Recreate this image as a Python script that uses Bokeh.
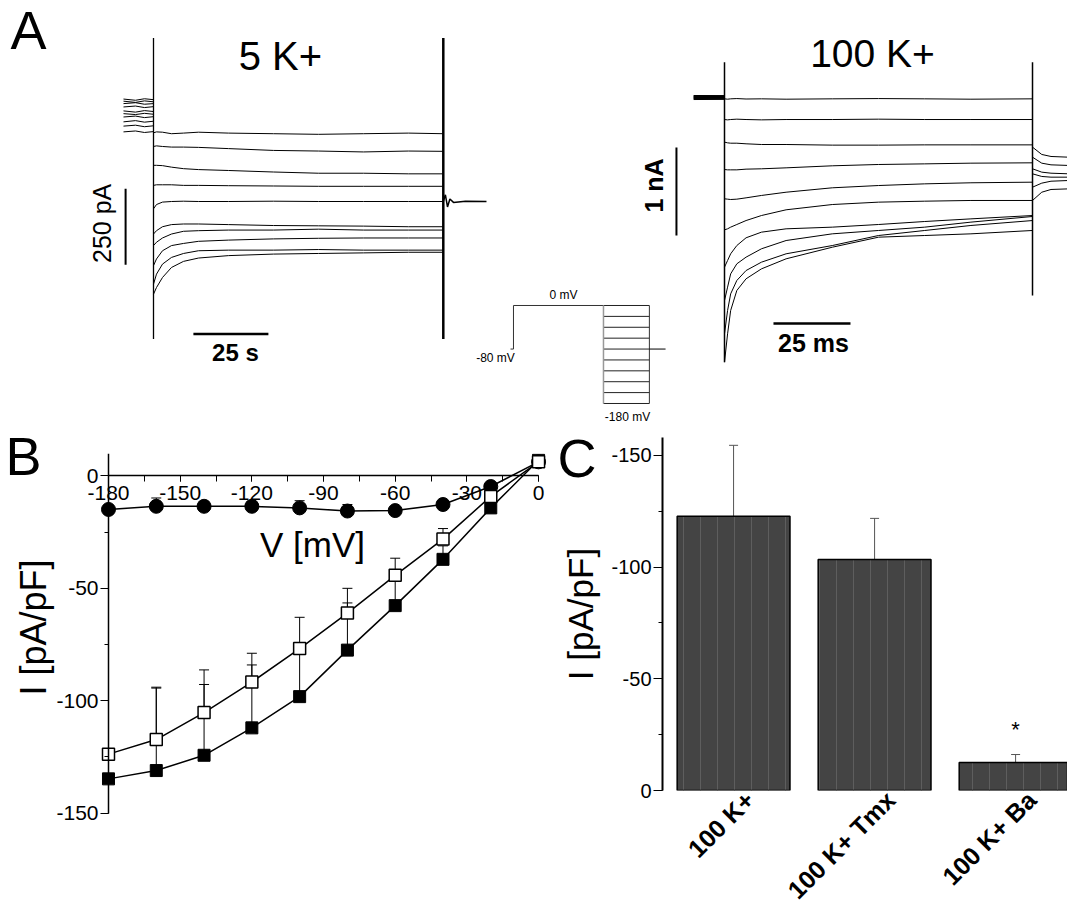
import math
from bokeh.plotting import figure
from bokeh.models import (Range1d, Label, Whisker, TeeHead, SingleIntervalTicker,
                          ColumnDataSource, GridBox, PrintfTickFormatter)
from bokeh.embed import file_html
from bokeh.resources import INLINE
from bokeh.core.properties import value

FONT = "Liberation Sans"

# ---------------- data: panel A, 5 K+ (time in s as on scale bar, current in pA) ----------------
t5 = [0, 1, 3, 6, 10, 15, 25, 40, 55, 70, 85, 96.6]
i5 = [
    [226, 229, 228, 223, 225, 228, 225, 223, 221, 223, 225, 223],
    [181, 183, 181, 179, 179, 178, 174, 168, 166, 163, 166, 165],
    [119, 119, 118, 113, 108, 105, 102, 97, 93, 93, 91, 91],
    [53, 55, 55, 55, 53, 53, 52, 51, 50, 50, 50, 50],
    [-24, -10, -2, 0, 1, 0, 0, 1, 0, 0, 0, 0],
    [-107, -96, -83, -76, -74, -74, -76, -79, -80, -81, -83, -83],
    [-145, -134, -120, -107, -98, -96, -94, -94, -91, -94, -94, -94],
    [-211, -189, -162, -145, -138, -131, -127, -123, -121, -120, -120, -120],
    [-272, -239, -206, -184, -171, -162, -160, -160, -158, -160, -160, -160],
    [-305, -283, -250, -217, -197, -186, -178, -173, -171, -169, -167, -167],
]
t5_pre = [-10, -6, -3, 0]
pre5 = [
    [337, 333, 338, 335], [330, 326, 331, 328], [322, 325, 320, 322], [311, 314, 309, 312],
    [298, 294, 299, 296], [289, 286, 290, 287], [278, 281, 276, 279], [262, 266, 261, 264],
    [248, 251, 246, 249], [229, 232, 227, 230],
]
trans5 = [-452, 538]
tail5_t = [96.6, 97.3, 98.0, 98.8, 100, 104, 111]
tail5_i = [0, 22, -18, 8, -3, 1, 0]
scale5_i = 250   # pA
scale5_t = 25    # s

# ---------------- data: panel A, 100 K+ (time in ms, current in pA) ----------------
t100 = [0, 1, 2, 4, 7, 12, 20, 35, 50, 65, 80, 100]
i100 = [
    [909, 905, 909, 912, 907, 909, 905, 909, 912, 909, 905, 909],
    [674, 670, 674, 678, 674, 670, 674, 674, 678, 674, 674, 674],
    [417, 409, 405, 405, 398, 390, 390, 383, 383, 386, 386, 386],
    [106, 102, 102, 102, 110, 114, 125, 148, 163, 170, 178, 182],
    [-227, -231, -235, -231, -216, -189, -152, -102, -76, -57, -45, -38],
    [-580, -568, -549, -519, -474, -417, -352, -292, -265, -254, -246, -246],
    [-1004, -928, -852, -758, -670, -606, -568, -549, -519, -485, -455, -417],
    [-1383, -1231, -1080, -966, -890, -795, -701, -625, -587, -549, -492, -428],
    [-1761, -1496, -1307, -1155, -1042, -947, -852, -758, -644, -587, -530, -474],
    [-2083, -1761, -1496, -1269, -1136, -1023, -909, -777, -663, -644, -625, -587],
]
t100_pre = [-10, 0]
pre100 = [[947, 945], [942, 944], [937, 935], [932, 934], [928, 926],
          [923, 925], [918, 916], [913, 915], [907, 909], [901, 903]]
trans100_on = [-2083, 1326]
trans100_off = [-1326, 1326]
tail100_t = [100, 103, 106, 111.7]
tail100 = [[360, 277, 254, 246], [246, 178, 159, 152], [114, 76, 64, 57],
           [57, 27, 19, 19], [-95, -49, -27, -19], [-246, -152, -121, -114]]
scale100_i = 1000  # pA (1 nA)
scale100_t = 25    # ms

# ---------------- data: voltage protocol ----------------
hold_v = -80
pre_v = 0
test_v = [0, -20, -40, -60, -80, -100, -120, -140, -160, -180]
prot_t = [-3.3, 0, 100, 151, 169]

# ---------------- data: panel B (I-V) ----------------
V = [-180, -160, -140, -120, -100, -80, -60, -40, -20, 0]
i_5k = [-14.9, -13.5, -13.5, -13.5, -14.2, -15.6, -15.4, -12.7, -4.7, 6.3]
e_5k = [1.0, 3.7, 1.0, 1.0, 3.2, 2.9, 1.0, 1.0, 1.0, 1.0]
i_tmx = [-123.8, -117.3, -105.3, -91.7, -76.8, -61.0, -44.2, -28.1, -9.1, 6.3]
e_tmx = [2.0, 23.3, 19.0, 12.8, 13.9, 11.0, 7.6, 4.7, 2.0, 1.0]
i_100k = [-134.8, -131.1, -124.3, -112.1, -98.2, -77.5, -57.7, -37.1, -14.2, 7.0]
e_100k = [2.0, 36.7, 31.5, 28.0, 22.0, 21.0, 13.0, 6.0, 2.0, 1.0]

# ---------------- data: panel C (bars) ----------------
cats = ["100 K+", "100 K+ Tmx", "100 K+ Ba"]
c_mean = [-122.8, -103.4, -12.5]
c_sem = [31.7, 18.4, 3.6]
c_sig = ["", "", "*"]

COMMON = dict(output_backend="svg", toolbar_location=None, frame_align=False)

# =====================================================================
# Panel A
pa = figure(width=1067, height=430, x_range=Range1d(0, 1), y_range=Range1d(0, 1),
            x_axis_location=None, y_axis_location=None, min_border=0, **COMMON)
pa.grid.visible = False
pa.outline_line_color = None
pa.extra_x_ranges = {"t5": Range1d(-51, 304.667), "t100": Range1d(-235.06, 111.36),
                     "tp": Range1d(-570, 615.6)}
pa.extra_y_ranges = {"i5": Range1d(-753.3, 661.2), "i100": Range1d(-2859.9, 2026.5),
                     "vp": Range1d(-229.6, 560.2)}
k5 = dict(x_range_name="t5", y_range_name="i5")
k100 = dict(x_range_name="t100", y_range_name="i100")
kp = dict(x_range_name="tp", y_range_name="vp")

# 5 K+ traces
pa.multi_line(xs=[t5_pre] * len(pre5), ys=pre5, line_color="black", line_width=1, **k5)
pa.multi_line(xs=[t5] * len(i5), ys=i5, line_color="black", line_width=1, **k5)
pa.line(x=[t5[0], t5[0]], y=trans5, line_color="black", line_width=1.3, **k5)
pa.line(x=[t5[-1], t5[-1]], y=trans5, line_color="black", line_width=2.5, **k5)
pa.line(x=tail5_t, y=tail5_i, line_color="black", line_width=1.5, **k5)
sb5_x, sb5_y0 = -9.3, -208
pa.line(x=[sb5_x, sb5_x], y=[sb5_y0, sb5_y0 + scale5_i], line_color="black", line_width=2, **k5)
sb5_t0, sb5_yh = 13.3, -436
pa.line(x=[sb5_t0, sb5_t0 + scale5_t], y=[sb5_yh, sb5_yh], line_color="black", line_width=2.5, **k5)

# 100 K+ traces
pa.multi_line(xs=[t100_pre] * len(pre100), ys=pre100, line_color="black", line_width=1, **k100)
pa.multi_line(xs=[t100] * len(i100), ys=i100, line_color="black", line_width=1, **k100)
pa.line(x=[t100[0], t100[0]], y=trans100_on, line_color="black", line_width=1.5, **k100)
pa.line(x=[t100[-1], t100[-1]], y=trans100_off, line_color="black", line_width=1.5, **k100)
pa.multi_line(xs=[tail100_t] * len(tail100), ys=tail100, line_color="black", line_width=1, **k100)
sb100_x, sb100_y0 = -15.6, -644
pa.line(x=[sb100_x, sb100_x], y=[sb100_y0, sb100_y0 + scale100_i], line_color="black", line_width=2, **k100)
sb100_t0, sb100_yh = 15.9, -1644
pa.line(x=[sb100_t0, sb100_t0 + scale100_t], y=[sb100_yh, sb100_yh], line_color="black", line_width=2.5, **k100)

# voltage protocol
pa.line(x=[prot_t[0], prot_t[1], prot_t[1], prot_t[2]], y=[hold_v, hold_v, pre_v, pre_v],
        line_color="#333333", line_width=1, **kp)
pa.multi_line(xs=[[prot_t[2], prot_t[3]]] * len(test_v), ys=[[v, v] for v in test_v],
              line_color="#222222", line_width=1, **kp)
pa.line(x=[prot_t[2], prot_t[2]], y=[max(test_v), min(test_v)], line_color="#999999", line_width=1.5, **kp)
pa.line(x=[prot_t[3], prot_t[3]], y=[max(test_v), min(test_v)], line_color="#333333", line_width=1, **kp)
pa.line(x=[prot_t[3], prot_t[4]], y=[hold_v, hold_v], line_color="black", line_width=1, **kp)


def lab(fig, text, x, y, size, rng=(None, None), style="normal", angle=0.0, align="center",
        baseline="middle"):
    kw = {}
    if rng[0]:
        kw["x_range_name"] = rng[0]
    if rng[1]:
        kw["y_range_name"] = rng[1]
    fig.add_layout(Label(x=x, y=y, text=text, text_font=FONT, text_font_size=f"{size}px",
                         text_font_style=style, text_align=align, text_baseline=baseline,
                         angle=angle, text_color="black", **kw))


lab(pa, "A", -47.7, 565.8, 54, ("t5", "i5"), align="left")
lab(pa, "5 K+", 42.3, 480, 40, ("t5", "i5"))
lab(pa, "250 pA", -17, -72, 25, ("t5", "i5"), angle=math.pi / 2)
lab(pa, "25 s", 27.3, -497, 24, ("t5", "i5"), style="bold")
lab(pa, "100 K+", 48.05, 1424, 39, ("t100", "i100"))
lab(pa, "1 nA", -23, -76, 25, ("t100", "i100"), style="bold", angle=math.pi / 2)
lab(pa, "25 ms", 28.9, -1871, 25, ("t100", "i100"), style="bold")
lab(pa, "0 mV", 55.6, 18.4, 12, ("tp", "vp"))
lab(pa, f"{hold_v} mV", -20, -97.3, 12, ("tp", "vp"))
lab(pa, f"{min(test_v)} mV", 126.7, -205.7, 12, ("tp", "vp"))

# =====================================================================
# Panel B
pb = figure(width=555, height=475, x_range=Range1d(-202.6, 5), y_range=Range1d(-160, 10),
            min_border_left=54, min_border_right=5, min_border_top=23, min_border_bottom=70, **COMMON)
pb.grid.visible = False
pb.outline_line_color = None
xa = pb.xaxis[0]
xa.fixed_location = 0
xa.bounds = (min(V), max(V))
xa.ticker = SingleIntervalTicker(interval=30, num_minor_ticks=2)
ya = pb.yaxis[0]
ya.fixed_location = min(V)
ya.bounds = (-150, 10)
ya.ticker = SingleIntervalTicker(interval=50, num_minor_ticks=2)
for ax in (xa, ya):
    ax.formatter = PrintfTickFormatter(format="%d")
    ax.axis_line_color = "black"
    ax.axis_line_width = 1.5
    ax.major_tick_line_color = "black"
    ax.minor_tick_line_color = "black"
    ax.major_tick_in = 0
    ax.minor_tick_in = 0
    ax.major_label_text_font = FONT
    ax.major_label_text_font_size = "21px"
    ax.major_label_text_color = "black"
xa.major_tick_out = 6
xa.minor_tick_out = 6
xa.major_label_standoff = 4
ya.major_tick_out = 8
ya.minor_tick_out = 4
ya.major_label_standoff = 2

src_b = ColumnDataSource(dict(
    V=V, i5=i_5k, u5=[m + e for m, e in zip(i_5k, e_5k)],
    it=i_tmx, ut=[m + e for m, e in zip(i_tmx, e_tmx)],
    ik=i_100k, uk=[m + e for m, e in zip(i_100k, e_100k)]))
for mean_col, up_col in (("i5", "u5"), ("it", "ut"), ("ik", "uk")):
    pb.add_layout(Whisker(base="V", lower=mean_col, upper=up_col, source=src_b, dimension="height",
                          line_color="black", line_width=1,
                          upper_head=TeeHead(size=10, line_color="black", line_width=1),
                          lower_head=None))
pb.line("V", "i5", source=src_b, line_color="black", line_width=1.5)
pb.line("V", "it", source=src_b, line_color="black", line_width=1.5)
pb.line("V", "ik", source=src_b, line_color="black", line_width=1.5)
pb.scatter("V", "i5", source=src_b, marker="circle", size=14, fill_color="black", line_color="black")
pb.scatter("V", "ik", source=src_b, marker="square", size=12, fill_color="black", line_color="black")
pb.scatter("V", "it", source=src_b, marker="square", size=12, fill_color="white", line_color="black",
           line_width=1.5)
lab(pb, "V [mV]", -94.6, -30.3, 35)

# =====================================================================
# Panel C
pc = figure(width=512, height=475, x_range=Range1d(-0.504, 2.368), y_range=Range1d(0, -158),
            min_border_left=107, min_border_right=0, min_border_top=7, min_border_bottom=115, **COMMON)
pc.grid.visible = False
pc.outline_line_color = None
cx = list(range(len(cats)))
src_c = ColumnDataSource(dict(x=cx, top=c_mean, up=[m - s for m, s in zip(c_mean, c_sem)], sig=c_sig,
                              sy=[m - s - 11 for m, s in zip(c_mean, c_sem)]))
pc.add_layout(Whisker(base="x", lower="top", upper="up", source=src_c, dimension="height",
                      line_color="#555555", line_width=1,
                      upper_head=TeeHead(size=9, line_color="#555555", line_width=1),
                      lower_head=None))
pc.vbar(x="x", top="top", bottom=0, width=0.8, source=src_c, fill_color="#444444",
        line_color="black", line_width=1.5, hatch_pattern="|", hatch_color="#5e5e5e",
        hatch_scale=17, hatch_weight=1)
pc.text(x="x", y="sy", text="sig", source=src_c, text_font=value(FONT), text_font_size="22px",
        text_align="center", text_baseline="middle", text_color="black")
pc.xaxis.visible = False
cya = pc.yaxis[0]
cya.ticker = SingleIntervalTicker(interval=50, num_minor_ticks=2)
cya.formatter = PrintfTickFormatter(format="%d")
cya.axis_line_color = "black"
cya.axis_line_width = 2
cya.major_tick_line_color = "black"
cya.minor_tick_line_color = "black"
cya.major_tick_in = 0
cya.minor_tick_in = 0
cya.major_tick_out = 9
cya.minor_tick_out = 4
cya.major_label_standoff = 2
cya.major_label_text_font = FONT
cya.major_label_text_font_size = "20px"
cya.major_label_text_color = "black"
cya.axis_label = "I [pA/pF]"
cya.axis_label_text_font = FONT
cya.axis_label_text_font_size = "35px"
cya.axis_label_text_font_style = "normal"
cya.axis_label_text_color = "black"
cya.axis_label_standoff = 8

# =====================================================================
# transparent overlay for texts lying outside the plot frames
ov = figure(width=1067, height=905, x_range=Range1d(0, 1067), y_range=Range1d(0, 905),
            x_axis_location=None, y_axis_location=None, min_border=0,
            background_fill_color=None, border_fill_color=None, **COMMON)
ov.grid.visible = False
ov.outline_line_color = None
ov.extra_x_ranges = {"cx": Range1d(-733 / 141, (1067 - 733) / 141)}
lab(ov, "B", 5, 905 - 455, 54, align="left")
lab(ov, "C", 557, 905 - 457, 54, align="left")
lab(ov, "I [pA/pF]", 33, 905 - 627, 36, angle=math.pi / 2)
ov.text(x=[c + 0.115 for c in cx], y=[905 - 795] * len(cx), text=cats, x_range_name="cx",
        angle=math.pi / 4, text_align="right", text_baseline="middle", text_font=value(FONT),
        text_font_style=value("bold"), text_font_size="25px", text_color="black")

layout = GridBox(children=[(pa, 0, 0, 1, 2), (pb, 1, 0, 1, 1), (pc, 1, 1, 1, 1), (ov, 0, 0, 2, 2)])
open("out.html", "w").write(file_html(layout, INLINE))
